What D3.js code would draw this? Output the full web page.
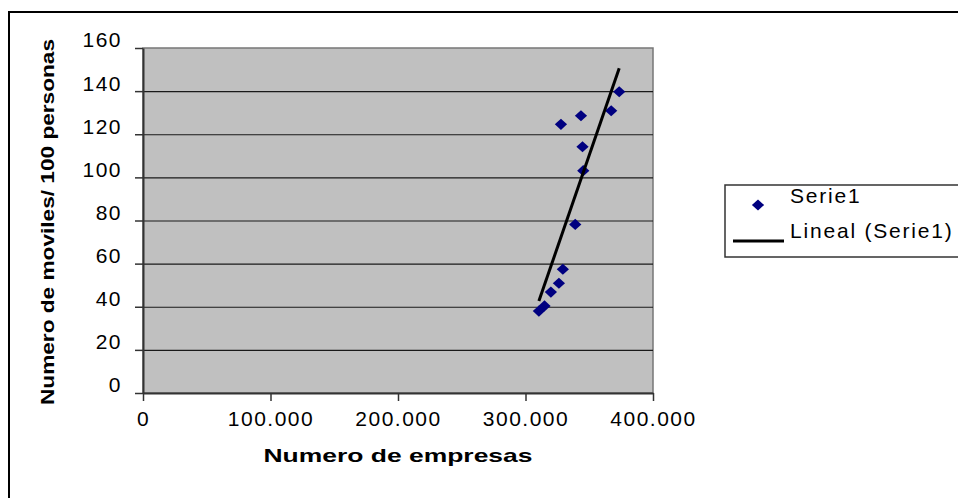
<!DOCTYPE html>
<html>
<head>
<meta charset="utf-8">
<script src="https://cdn.jsdelivr.net/npm/d3@7"></script>
<style>
  body { margin: 0; background: #fff; }
  text { font-family: "Liberation Sans", Arial, sans-serif; }
</style>
</head>
<body>
<div id="chart"></div>
<script>
// numero de empresas vs numero de moviles / 100 personas
var empresas = [310500, 314900, 319900, 326200, 329300, 339000, 345300, 344700, 327800, 343500, 367200, 373500];
var moviles = [38.0, 40.4, 46.8, 50.9, 57.4, 78.2, 103.1, 114.2, 124.6, 128.6, 130.9, 139.7];
var yTicks = [0, 20, 40, 60, 80, 100, 120, 140, 160];
var xTicks = [0, 100000, 200000, 300000, 400000];
var seriesName = 'Serie1';
var trendName = 'Lineal (Serie1)';

var data = empresas.map(function (d, i) {
    return {x: d, y: moviles[i]};
});

var margin = {top: 48, left: 143};
var width = 510, height = 345;

var svg = d3.select('#chart').append('svg')
    .attr('width', 958)
    .attr('height', 498);

// outer frame
svg.append('rect')
    .attr('x', 9).attr('y', 12)
    .attr('width', 980).attr('height', 520)
    .attr('fill', 'none')
    .attr('stroke', '#000')
    .attr('stroke-width', 2);

var g = svg.append('g')
    .attr('transform', 'translate(' + margin.left + ',' + margin.top + ')');

var x = d3.scaleLinear().domain([0, 400000]).range([0, width]);
var y = d3.scaleLinear().domain([0, 160]).range([height, 0]);

var fmt = d3.formatLocale({decimal: ',', thousands: '.', grouping: [3], currency: ['', '']}).format(',');

g.append('rect')
    .attr('width', width).attr('height', height)
    .attr('fill', '#c0c0c0')
    .attr('stroke', '#777')
    .attr('stroke-width', 1.5);

// gridlines
g.append('g')
    .attr('class', 'grid')
    .call(d3.axisLeft(y).tickValues(yTicks.slice(1, -1)).tickSize(-width).tickFormat(''))
    .call(function (s) {
        s.select('.domain').remove();
        s.selectAll('line').attr('stroke', '#1a1a1a').attr('stroke-width', 1.2);
    });

var yAxis = g.append('g')
    .attr('class', 'y-axis')
    .call(d3.axisLeft(y).tickValues(yTicks).tickSize(8).tickSizeOuter(0).tickPadding(13));
yAxis.select('.domain').attr('stroke', '#333').attr('stroke-width', 2);
yAxis.selectAll('line').attr('stroke', '#333').attr('stroke-width', 1.5);
yAxis.selectAll('text')
    .attr('dy', '-0.05em')
    .attr('font-size', '21px')
    .attr('letter-spacing', '1.5px')
    .attr('fill', '#000')
    .style('font-family', '"Liberation Sans", Arial, sans-serif');

var xAxis = g.append('g')
    .attr('class', 'x-axis')
    .attr('transform', 'translate(0,' + height + ')')
    .call(d3.axisBottom(x).tickValues(xTicks).tickSize(8).tickSizeOuter(0).tickPadding(10).tickFormat(fmt));
xAxis.select('.domain').attr('stroke', '#333').attr('stroke-width', 2);
xAxis.selectAll('line').attr('stroke', '#333').attr('stroke-width', 1.5);
xAxis.selectAll('text')
    .attr('font-size', '21px')
    .attr('letter-spacing', '1.5px')
    .attr('fill', '#000')
    .style('font-family', '"Liberation Sans", Arial, sans-serif');

// axis titles
g.append('text')
    .attr('x', width / 2)
    .attr('y', height + 69)
    .attr('text-anchor', 'middle')
    .attr('font-size', '19px')
    .attr('font-weight', 'bold')
    .attr('textLength', 269)
    .attr('lengthAdjust', 'spacingAndGlyphs')
    .text('Numero de empresas');

svg.append('text')
    .attr('transform', 'translate(54,222) rotate(-90)')
    .attr('text-anchor', 'middle')
    .attr('font-size', '18px')
    .attr('font-weight', 'bold')
    .attr('textLength', 366)
    .attr('lengthAdjust', 'spacingAndGlyphs')
    .text('Numero de moviles/ 100 personas');

// linear trend (least squares)
var mx = d3.mean(data, function (d) { return d.x; });
var my = d3.mean(data, function (d) { return d.y; });
var sxy = d3.sum(data, function (d) { return (d.x - mx) * (d.y - my); });
var sxx = d3.sum(data, function (d) { return (d.x - mx) * (d.x - mx); });
var slope = sxy / sxx, icpt = my - slope * mx;
var xr = d3.extent(data, function (d) { return d.x; });

var diamond = d3.symbol().type(d3.symbolSquare).size(62);

g.selectAll('.pt')
    .data(data)
    .enter()
    .append('path')
    .attr('class', 'pt')
    .attr('d', diamond)
    .attr('transform', function (d) {
        return 'translate(' + x(d.x) + ',' + y(d.y) + ') scale(1.1,1) rotate(45)';
    })
    .attr('fill', '#000080');

g.append('line')
    .attr('x1', x(xr[0])).attr('y1', y(slope * xr[0] + icpt))
    .attr('x2', x(xr[1])).attr('y2', y(slope * xr[1] + icpt))
    .attr('stroke', '#000')
    .attr('stroke-width', 3);

// legend
var lg = svg.append('g').attr('transform', 'translate(725,185)');
lg.append('rect')
    .attr('width', 300).attr('height', 72)
    .attr('fill', '#fff')
    .attr('stroke', '#333')
    .attr('stroke-width', 1.5);
lg.append('path')
    .attr('d', diamond)
    .attr('transform', 'translate(33,20) scale(1.1,1) rotate(45)')
    .attr('fill', '#000080');
lg.append('line')
    .attr('x1', 8).attr('x2', 59)
    .attr('y1', 56).attr('y2', 56)
    .attr('stroke', '#000')
    .attr('stroke-width', 3);
lg.append('text')
    .attr('x', 65).attr('y', 18)
    .attr('font-size', '21px')
    .attr('letter-spacing', '1.8px')
    .text(seriesName);
lg.append('text')
    .attr('x', 65).attr('y', 53)
    .attr('font-size', '21px')
    .attr('letter-spacing', '1.8px')
    .text(trendName);
</script>
</body>
</html>
